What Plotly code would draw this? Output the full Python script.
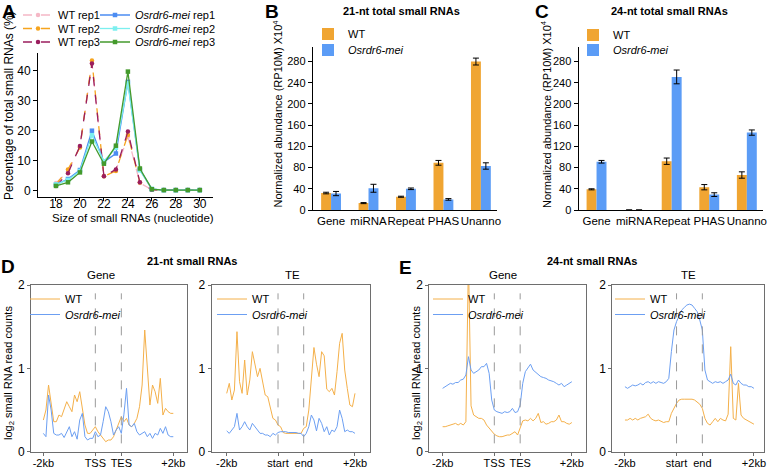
import plotly.graph_objects as go

W, H = 770, 469
FONT = "Arial, Liberation Sans, sans-serif"

ORANGE = "#F0A532"
BLUE = "#5B9CF6"
LINE_ORANGE = "#F4B04A"
LINE_BLUE = "#6C9FF2"

# ---------------- A: size distribution ----------------
sizes = list(range(18, 31))
wt_rep1 = [2.6, 6.3, 14.6, 42.6, 5.0, 6.9, 18.0, 2.6, 0.3, 0.2, 0.2, 0.2, 0.2]
wt_rep2 = [2.1, 7.1, 14.4, 43.4, 4.8, 6.6, 18.6, 2.7, 0.3, 0.2, 0.2, 0.2, 0.2]
wt_rep3 = [1.6, 5.8, 14.9, 42.4, 4.8, 7.1, 19.7, 2.8, 0.3, 0.2, 0.2, 0.2, 0.2]
mei_rep1 = [2.0, 3.9, 6.9, 20.0, 9.6, 12.4, 36.3, 7.0, 0.5, 0.2, 0.2, 0.2, 0.2]
mei_rep2 = [2.1, 3.6, 6.6, 18.5, 9.8, 14.3, 35.8, 6.8, 0.6, 0.2, 0.2, 0.2, 0.2]
mei_rep3 = [1.6, 2.8, 6.1, 16.4, 9.0, 15.0, 39.7, 7.4, 0.5, 0.2, 0.2, 0.2, 0.2]

# ---------------- B/C: annotation classes ----------------
categories = ["Gene", "miRNA", "Repeat", "PHAS", "Unanno"]
wt_21 = [32, 13, 25, 89, 280]
wt_21_err = [1.5, 1, 1, 4.5, 6.5]
mei_21 = [31, 41, 40, 20, 83]
mei_21_err = [4, 7.5, 1.5, 1.5, 6]
wt_24 = [39, 0, 92, 43, 66]
wt_24_err = [1, 0, 6, 5, 6]
mei_24 = [91, 0, 251, 29, 146]
mei_24_err = [2.5, 0, 13, 3.5, 5]

# ---------------- D/E: metaplots ----------------
bins = list(range(0, 101, 2))
d_gene_wt = [0.38, 0.50, 0.80, 0.60, 0.36, 0.36, 0.44, 0.42, 0.50, 0.60,
             0.54, 0.48, 0.68, 0.60, 0.72, 0.54, 0.32, 0.22, 0.22, 0.26,
             0.30, 0.24, 0.20, 0.16, 0.12, 0.14, 0.14, 0.18, 0.26, 0.32,
             0.42, 0.36, 0.40, 0.32, 0.30, 0.34, 0.40, 0.54, 0.80, 1.46,
             1.04, 0.56, 0.80, 0.72, 0.58, 0.88, 0.44, 0.52, 0.48, 0.46,
             0.46]
d_gene_mei = [0.22, 0.18, 0.68, 0.50, 0.22, 0.20, 0.20, 0.22, 0.17, 0.24,
              0.30, 0.18, 0.24, 0.15, 0.38, 0.46, 0.18, 0.14, 0.16, 0.16,
              0.24, 0.18, 0.20, 0.36, 0.54, 0.48, 0.36, 0.20, 0.26, 0.30,
              0.22, 0.45, 0.76, 0.32, 0.30, 0.34, 0.24, 0.20, 0.22, 0.24,
              0.18, 0.22, 0.16, 0.22, 0.20, 0.28, 0.22, 0.30, 0.20, 0.18,
              0.18]
d_te_wt = [0.70, 0.82, 0.62, 0.74, 1.44, 0.84, 0.70, 1.10, 0.68, 0.86,
           1.20, 1.05, 0.90, 1.00, 0.82, 0.68, 0.66, 0.52, 0.40, 0.38,
           0.32, 0.30, 0.23, 0.22, 0.22, 0.22, 0.22, 0.22, 0.22, 0.22,
           0.28, 0.30, 0.50, 0.85, 1.25, 1.05, 0.90, 1.20, 1.15, 0.75,
           0.72, 0.76, 0.68, 0.96, 1.30, 1.42, 0.98, 0.76, 0.56, 0.54,
           0.70]
d_te_mei = [0.25, 0.22, 0.26, 0.30, 0.46, 0.26, 0.30, 0.36, 0.30, 0.26,
            0.34, 0.30, 0.26, 0.22, 0.22, 0.20, 0.20, 0.18, 0.22, 0.20,
            0.23, 0.24, 0.24, 0.24, 0.23, 0.23, 0.23, 0.23, 0.22, 0.22,
            0.18, 0.22, 0.30, 0.44, 0.38, 0.25, 0.40, 0.34, 0.24, 0.30,
            0.20, 0.26, 0.24, 0.30, 0.50, 0.40, 0.24, 0.26, 0.24, 0.24,
            0.22]
e_gene_wt = [0.30, 0.30, 0.31, 0.32, 0.33, 0.34, 0.32, 0.34, 0.32, 0.36,
             2.30, 0.55, 0.44, 0.42, 0.40, 0.40, 0.38, 0.32, 0.28, 0.24,
             0.21, 0.19, 0.18, 0.18, 0.19, 0.20, 0.20, 0.22, 0.24, 0.20,
             0.28, 0.37, 0.38, 0.37, 0.40, 0.37, 0.40, 0.46, 0.35, 0.36,
             0.33, 0.34, 0.36, 0.36, 0.38, 0.44, 0.36, 0.36, 0.34, 0.33,
             0.35]
e_gene_mei = [0.76, 0.78, 0.79, 0.82, 0.81, 0.83, 0.83, 0.86, 0.87, 0.92,
              1.14, 0.98, 0.94, 0.96, 0.98, 1.02, 1.02, 1.06, 0.94, 0.62,
              0.50, 0.48, 0.47, 0.46, 0.48, 0.47, 0.48, 0.52, 0.47, 0.48,
              0.56, 0.82, 0.96, 1.00, 1.05, 0.98, 0.95, 0.92, 0.90, 0.89,
              0.88, 0.86, 0.85, 0.84, 0.82, 0.80, 0.82, 0.78, 0.80, 0.82,
              0.84]
e_te_wt = [0.38, 0.38, 0.40, 0.38, 0.40, 0.38, 0.40, 0.41, 0.42, 0.45,
           0.40, 0.38, 0.37, 0.38, 0.36, 0.35, 0.36, 0.36, 0.46, 0.52,
           0.58, 0.62, 0.63, 0.63, 0.63, 0.63, 0.63, 0.62, 0.60, 0.57,
           0.52, 0.40, 0.34, 0.32, 0.36, 0.40, 0.36, 0.40, 0.38, 0.37,
           0.45, 1.26, 0.40, 0.38, 0.82, 0.44, 0.40, 0.38, 0.36, 0.34,
           0.33]
e_te_mei = [0.78, 0.76, 0.78, 0.80, 0.79, 0.80, 0.82, 0.80, 0.83, 0.84,
            0.82, 0.84, 0.82, 0.84, 0.83, 0.82, 0.84, 0.88, 1.20, 1.46,
            1.56, 1.64, 1.70, 1.73, 1.76, 1.77, 1.76, 1.72, 1.68, 1.58,
            1.46, 0.98, 0.86, 0.84, 0.82, 0.84, 0.83, 0.84, 0.82, 0.84,
            0.86, 0.93, 0.82, 0.80, 0.86, 0.82, 0.80, 0.80, 0.78, 0.78,
            0.76]
boundary_bins = [40, 60]
gene_ticks = ["-2kb", "TSS", "TES", "+2kb"]
te_ticks = ["-2kb", "start", "end", "+2kb"]


def px(x0, x1):
    return [x0 / W, x1 / W]


def py(top, bottom):
    return [1 - bottom / H, 1 - top / H]


def legend_box(x, y, size=11):
    # x: left of the text, y: row centre (pixels)
    return dict(x=(x - 40) / W, y=1 - y / H, xanchor="left", yanchor="middle",
                bgcolor="rgba(0,0,0,0)", borderwidth=0, itemwidth=30,
                font=dict(size=size, family=FONT, color="black"))


fig = go.Figure()

# ---- A ----
a_series = [
    ("WT rep1", wt_rep1, "#F5B8C6", "dash", "circle"),
    ("WT rep2", wt_rep2, "#F6A41E", "dash", "circle"),
    ("WT rep3", wt_rep3, "#9A1E5E", "dash", "circle"),
    ("<i>Osrdr6-mei</i> rep1", mei_rep1, "#4B8CF2", "solid", "square"),
    ("<i>Osrdr6-mei</i> rep2", mei_rep2, "#7CEFEF", "solid", "square"),
    ("<i>Osrdr6-mei</i> rep3", mei_rep3, "#449A2C", "solid", "square"),
]
for i, (name, vals, col, dash, sym) in enumerate(a_series):
    fig.add_trace(go.Scatter(x=sizes, y=vals, name=name, mode="lines+markers",
                             line=dict(color=col, width=1.3, dash=dash),
                             marker=dict(color=col, size=4.5, symbol=sym),
                             xaxis="x", yaxis="y",
                             legend="legend" if i == 0 else f"legend{i + 1}"))

# ---- B / C ----
for ax, wt, wte, mei, meie, lg in [("2", wt_21, wt_21_err, mei_21, mei_21_err, 7),
                                   ("3", wt_24, wt_24_err, mei_24, mei_24_err, 9)]:
    fig.add_trace(go.Bar(x=categories, y=wt, name="WT", marker_color=ORANGE,
                         marker_line_width=0,
                         error_y=dict(type="data", array=wte, color="black",
                                      thickness=1, width=3),
                         xaxis="x" + ax, yaxis="y" + ax, legend=f"legend{lg}"))
    fig.add_trace(go.Bar(x=categories, y=mei, name="<i>Osrdr6-mei</i>",
                         marker_color=BLUE, marker_line_width=0,
                         error_y=dict(type="data", array=meie, color="black",
                                      thickness=1, width=3),
                         xaxis="x" + ax, yaxis="y" + ax, legend=f"legend{lg + 1}"))

# ---- D / E ----
profiles = [("4", d_gene_wt, d_gene_mei, 11), ("5", d_te_wt, d_te_mei, 13),
            ("6", e_gene_wt, e_gene_mei, 15), ("7", e_te_wt, e_te_mei, 17)]
for ax, wt, mei, lg in profiles:
    fig.add_trace(go.Scatter(x=bins, y=wt, name="WT", mode="lines",
                             line=dict(color=LINE_ORANGE, width=1),
                             xaxis="x" + ax, yaxis="y" + ax, legend=f"legend{lg}"))
    fig.add_trace(go.Scatter(x=bins, y=mei, name="<i>Osrdr6-mei</i>", mode="lines",
                             line=dict(color=LINE_BLUE, width=1),
                             xaxis="x" + ax, yaxis="y" + ax, legend=f"legend{lg + 1}"))
    for b in boundary_bins:
        fig.add_shape(type="line", xref="x" + ax, yref="y" + ax, x0=b, x1=b,
                      y0=0.1, y1=1.9, line=dict(color="#9A9A9A", width=1, dash="dash"))

axis_common = dict(showline=True, linecolor="black", linewidth=1, ticks="outside",
                   ticklen=4, tickcolor="black", showgrid=False, zeroline=False,
                   tickfont=dict(size=12, color="black", family=FONT))
box_common = dict(showline=True, linecolor="#6E6E6E", linewidth=1, mirror=True,
                  ticks="outside", ticklen=3, tickcolor="#6E6E6E", showgrid=False,
                  zeroline=False, tickfont=dict(size=11, color="black", family=FONT))

layout = dict(
    width=W, height=H, margin=dict(l=0, r=0, t=0, b=0, autoexpand=False),
    paper_bgcolor="white", plot_bgcolor="white", showlegend=True,
    font=dict(family=FONT, color="black"),
    barmode="group", bargap=0.47, bargroupgap=0,
    xaxis=dict(axis_common, domain=px(38, 213), range=[16.5, 31.1], ticklen=3,
               ticklabelstandoff=-7, tickvals=list(range(18, 31, 2)), anchor="y"),
    yaxis=dict(axis_common, domain=py(53, 197), range=[-2.1, 45.9],
               tickvals=[0, 10, 20, 30, 40], anchor="x"),
    xaxis2=dict(axis_common, domain=px(312.7, 497), range=[-0.49, 4.43],
                ticks="", tickangle=0,
                tickfont=dict(size=11.5, color="black", family=FONT), anchor="y2"),
    yaxis2=dict(axis_common, domain=py(46.7, 210), range=[0, 308],
                tickvals=list(range(0, 281, 40)), tickfont=dict(size=11, family=FONT),
                anchor="x2"),
    xaxis3=dict(axis_common, domain=px(578.5, 763), range=[-0.48, 4.43],
                ticks="", tickangle=0,
                tickfont=dict(size=11.5, color="black", family=FONT), anchor="y3"),
    yaxis3=dict(axis_common, domain=py(46.7, 210), range=[0, 308],
                tickvals=list(range(0, 281, 40)), tickfont=dict(size=11, family=FONT),
                anchor="x3"),
)
prof_axes = [("4", (31, 186.7), (-9.5, 110.3), gene_ticks),
             ("5", (211.7, 370), (-11.7, 111.7), te_ticks),
             ("6", (429.3, 585.7), (-10.3, 110.7), gene_ticks),
             ("7", (612.3, 764), (-9.8, 107.8), te_ticks)]
for ax, (l, r), rng, labels in prof_axes:
    layout["xaxis" + ax] = dict(box_common, domain=px(l, r), range=list(rng), tickangle=0,
                                ticklabelstandoff=-2, tickvals=[0, 40, 60, 100],
                                ticktext=labels, anchor="y" + ax)
    layout["yaxis" + ax] = dict(box_common, domain=py(285, 451.7), range=[0, 2],
                                tickvals=[0, 1, 2], anchor="x" + ax,
                                tickfont=dict(size=12, color="black", family=FONT))

legend_pos = [(58, 15), (58, 28.5), (58, 42), (135, 15), (135, 28.5), (135, 42),
              (348, 34), (348, 50), (613, 35), (613, 50),
              (65, 299), (65, 314.5), (252, 299), (252, 314.5),
              (468, 299), (468, 314.5), (650, 299), (650, 314.5)]
for i, (lx, ly) in enumerate(legend_pos):
    key = "legend" if i == 0 else f"legend{i + 1}"
    layout[key] = legend_box(lx, ly)

fig.update_layout(**layout)


def note(text, x, y, size=11, bold=False, angle=0):
    fig.add_annotation(text=f"<b>{text}</b>" if bold else text, x=x / W, y=1 - y / H,
                       xref="paper", yref="paper", showarrow=False, textangle=angle,
                       xanchor="center", yanchor="middle",
                       font=dict(size=size, family=FONT, color="black"))


for letter, lx, ly in [("A", 9, 12), ("B", 272, 12), ("C", 542, 12),
                       ("D", 8, 266), ("E", 406, 267)]:
    note(letter, lx, ly, size=19, bold=True)

note("21-nt total small RNAs", 402, 11, bold=True)
note("24-nt total small RNAs", 669, 11, bold=True)
note("21-nt small RNAs", 192, 261, bold=True)
note("24-nt small RNAs", 592, 261, bold=True)
for t, tx in [("Gene", 101), ("TE", 292), ("Gene", 503), ("TE", 688)]:
    note(t, tx, 275, size=11.5)

note("Percentage of total small RNAs (%)", 9, 106, size=12, angle=-90)
note("Size of small RNAs (nucleotide)", 133, 218, size=11.5)
note("Normalized abundance (RP10M) X10<sup>4</sup>", 277.5, 114, size=11, angle=-90)
note("Normalized abundance (RP10M) X10<sup>4</sup>", 546, 114, size=11, angle=-90)
note("log<sub>2</sub> small RNA read counts", 9, 373, size=11, angle=-90)
note("log<sub>2</sub> small RNA read counts", 417, 373, size=11, angle=-90)

# the default page margin would push the figure 8px down/right
fig.write_html("out.html", config={"displayModeBar": False},
               post_script="document.body.style.margin='0px';")
